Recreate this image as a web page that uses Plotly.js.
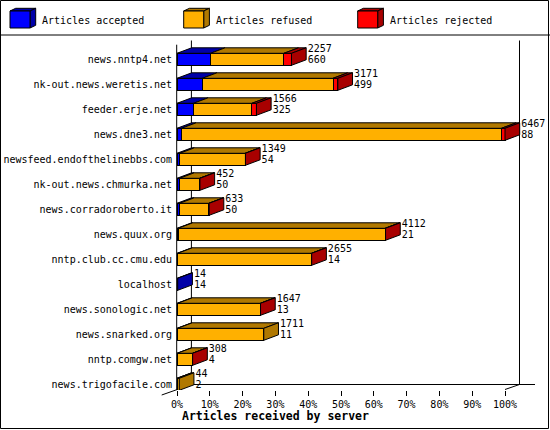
<!DOCTYPE html>
<html>
<head>
<meta charset="utf-8">
<script src="https://cdn.plot.ly/plotly-3.0.1.min.js"></script>
<style>
  body { margin: 0; background: #fff; }
  #chart { width: 550px; height: 430px; }
</style>
</head>
<body>
<div id="chart"></div>
<script>
// data
const servers = [
    'news.nntp4.net', 'nk-out.news.weretis.net', 'feeder.erje.net', 'news.dne3.net',
    'newsfeed.endofthelinebbs.com', 'nk-out.news.chmurka.net', 'news.corradoroberto.it',
    'news.quux.org', 'nntp.club.cc.cmu.edu', 'localhost', 'news.sonologic.net',
    'news.snarked.org', 'nntp.comgw.net', 'news.trigofacile.com'
];
const accepted = [660, 499, 325, 88, 54, 50, 50, 21, 14, 14, 13, 11, 4, 2];
const refused  = [1447, 2577, 1151, 6309, 1289, 394, 577, 4081, 2636, 0, 1630, 1700, 301, 42];
const rejected = [150, 95, 90, 70, 6, 8, 6, 10, 5, 0, 4, 0, 3, 0];
const seriesNames = ['Articles accepted', 'Articles refused', 'Articles rejected'];
const pctTicks = [0, 10, 20, 30, 40, 50, 60, 70, 80, 90, 100];
const pctLabels = pctTicks.map(t => t + '%');

// look
const FRONT = ['#0000ff', '#ffb000', '#ff0000'];
const SHADE = ['#0000a8', '#b07800', '#a80000'];
const MONO = '"DejaVu Sans Mono", "Liberation Mono", monospace';

// pixel layout of the box
const W = 550, H = 430;
const M = { l: 177, r: 16, t: 35, b: 40 };
const PX_PER_PCT = 3.28;
const ROW_PX = 25, ROW0_PX = 59.3, BAR_PX = 12;
const DEPTH_X = 14.7, DEPTH_Y = -5.5; // 3d offset of the bars, px

const plotW = W - M.l - M.r, plotH = H - M.t - M.b;
const xMax = plotW / PX_PER_PCT;
const yTop = -(ROW0_PX - M.t) / ROW_PX;
const yBot = yTop + plotH / ROW_PX;
const dx = DEPTH_X / PX_PER_PCT, dy = DEPTH_Y / ROW_PX;
const half = BAR_PX / ROW_PX / 2;

// pixel -> paper, for the frame and the legend
const pxX = x => (x - M.l) / plotW;
const pxY = y => (H - M.b - y) / plotH;

const rows = servers.map((_, i) => i);
const series = [accepted, refused, rejected];
const totals = rows.map(i => accepted[i] + refused[i] + rejected[i]);
const maxTotal = Math.max(...totals);
const pct = series.map(s => s.map(v => v / maxTotal * 100));

function poly(acc, xs, ys) {
    xs.forEach((x, j) => { acc.x.push(x); acc.y.push(ys[j]); });
    acc.x.push(xs[0], null);
    acc.y.push(ys[0], null);
}

// top faces per segment, side face of the last segment
const tops = series.map(() => ({ x: [], y: [] }));
const sides = series.map(() => ({ x: [], y: [] }));
rows.forEach(i => {
    const yt = i - half, yb = i + half;
    let x0 = 0, last = -1;
    series.forEach((s, k) => {
        const w = pct[k][i];
        if (w <= 0) return;
        const x1 = x0 + w;
        poly(tops[k], [x0, x1, x1 + dx, x0 + dx], [yt, yt, yt + dy, yt + dy]);
        x0 = x1;
        last = k;
    });
    if (last >= 0) {
        poly(sides[last], [x0, x0 + dx, x0 + dx, x0], [yt, yt + dy, yb + dy, yb]);
    }
});

const traces = [];
series.forEach((s, k) => {
    traces.push({
        type: 'bar', orientation: 'h', name: seriesNames[k],
        y: rows, x: pct[k].map(v => v > 0 ? v : null), width: 2 * half,
        marker: { color: FRONT[k], line: { color: '#000', width: 1 } },
        hoverinfo: 'skip'
    });
});
[tops, sides].forEach(faces => {
    faces.forEach((f, k) => {
        if (!f.x.length) return;
        traces.push({
            type: 'scatter', mode: 'lines', x: f.x, y: f.y,
            fill: 'toself', fillcolor: SHADE[k],
            line: { color: '#000', width: 1 }, hoverinfo: 'skip'
        });
    });
});

const labelFont = { family: MONO, size: 10, color: '#000' };
const labelX = totals.map(t => t / maxTotal * 100 + dx + 1.5 / PX_PER_PCT);
traces.push({
    type: 'scatter', mode: 'text', x: labelX, y: rows.map(i => i - 0.39),
    text: totals.map(String), textposition: 'middle right',
    textfont: labelFont, cliponaxis: false, hoverinfo: 'skip'
});
traces.push({
    type: 'scatter', mode: 'text', x: labelX, y: rows.map(i => i + 0.06),
    text: accepted.map(String), textposition: 'middle right',
    textfont: labelFont, cliponaxis: false, hoverinfo: 'skip'
});

function line(x0, y0, x1, y1, layer) {
    return {
        type: 'line', xref: 'paper', yref: 'paper', layer: layer || 'above',
        x0: pxX(x0), y0: pxY(y0), x1: pxX(x1), y1: pxY(y1),
        line: { color: '#000', width: 1 }
    };
}
function path(pts, fill) {
    const d = pts.map((p, j) => (j ? 'L' : 'M') + pxX(p[0]) + ',' + pxY(p[1])).join(' ') + ' Z';
    return {
        type: 'path', xref: 'paper', yref: 'paper', path: d,
        fillcolor: fill, line: { color: '#000', width: 1 }
    };
}

const shapes = [
    line(0, 35, 550, 35),
    line(176.7, 44.7, 176.7, 390, 'below'),
    line(191.4, 40.5, 191.4, 384.5, 'below'),
    line(519.5, 40.5, 519.5, 384.5, 'below'),
    line(191.4, 384.5, 535, 384.5, 'below'),
    line(161.7, 395, 191.4, 384.5, 'below'),
    line(505, 389.5, 519.5, 384.5, 'below'),
    {
        type: 'rect', xref: 'paper', yref: 'paper',
        x0: pxX(0.5), x1: pxX(548.5), y0: pxY(0.5), y1: pxY(428.5),
        line: { color: '#000', width: 1 }
    }
];
const annotations = [];

// legend: little cubes
const legendX = [10, 183.7, 357.7];
seriesNames.forEach((name, k) => {
    const x = legendX[k], y0 = 11, y1 = 28, fw = 20, ddx = 5.7, ddy = -2.7;
    shapes.push(path([[x, y0], [x + fw, y0], [x + fw + ddx, y0 + ddy], [x + ddx, y0 + ddy]], SHADE[k]));
    shapes.push(path([[x + fw, y0], [x + fw + ddx, y0 + ddy], [x + fw + ddx, y1 + ddy], [x + fw, y1]], SHADE[k]));
    shapes.push(path([[x, y0], [x + fw, y0], [x + fw, y1], [x, y1]], FRONT[k]));
    annotations.push({
        xref: 'paper', yref: 'paper', x: pxX(x + 30), y: pxY(20),
        xanchor: 'left', yanchor: 'middle', showarrow: false,
        text: name, font: labelFont
    });
});

annotations.push({
    xref: 'paper', yref: 'paper', x: pxX(275), y: pxY(416),
    xanchor: 'center', yanchor: 'middle', showarrow: false,
    text: '<b>Articles received by server</b>',
    font: { family: MONO, size: 11.5, color: '#000' }
});

const layout = {
    width: W, height: H, margin: M,
    paper_bgcolor: '#fff', plot_bgcolor: 'rgba(0,0,0,0)',
    barmode: 'stack', showlegend: false,
    xaxis: {
        range: [0, xMax], tickvals: pctTicks, ticktext: pctLabels,
        ticks: 'outside', ticklen: 5, tickcolor: '#000', tickwidth: 1,
        showgrid: false, zeroline: false, showline: false,
        tickfont: labelFont, fixedrange: true
    },
    yaxis: {
        range: [yBot, yTop], tickvals: rows, ticktext: servers,
        ticks: 'outside', ticklen: 2, tickcolor: 'rgba(0,0,0,0)',
        showgrid: false, zeroline: false, showline: false,
        tickfont: labelFont, fixedrange: true
    },
    shapes: shapes,
    annotations: annotations
};

Plotly.newPlot('chart', traces, layout, { displayModeBar: false, staticPlot: true });
</script>
</body>
</html>
